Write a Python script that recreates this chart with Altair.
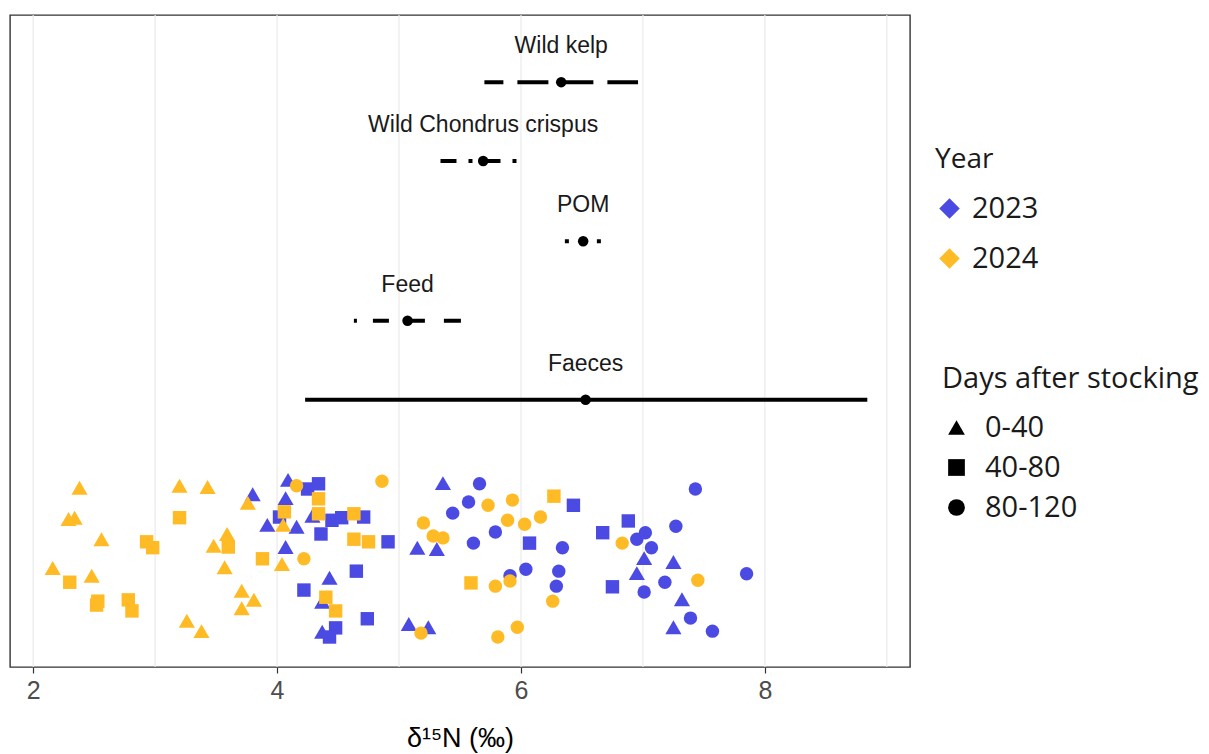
import altair as alt
import pandas as pd

# ---------------- data ----------------
sources = ["Wild kelp", "Wild Chondrus crispus", "POM", "Feed", "Faeces"]
src_mean = [6.33, 5.69, 6.51, 5.07, 6.53]
src_min = [5.70, 5.34, 6.36, 4.63, 4.23]
src_max = [6.96, 6.03, 6.67, 5.52, 8.84]
src_row = [8.97, 7.76, 6.53, 5.31, 4.10]

years = ["2023", "2024"]
days = ["0-40", "40-80", "80-120"]

# 2023
y2023_d0_40_x = [3.80, 3.92, 4.16, 4.07, 4.09, 4.07, 4.29, 4.43, 4.37, 4.37, 5.36, 5.15, 5.31, 5.08, 5.24, 7.01, 7.25, 6.95, 7.32, 7.25]
y2023_d0_40_y = [2.65, 2.18, 2.15, 2.59, 2.87, 1.84, 2.32, 1.37, 1.00, 0.54, 2.82, 1.83, 1.81, 0.66, 0.61, 1.67, 1.61, 1.44, 1.04, 0.61]
y2023_d40_80_x = [4.02, 4.25, 4.34, 4.45, 4.53, 4.71, 4.36, 4.91, 4.65, 4.22, 4.74, 4.48, 4.43, 6.07, 6.43, 6.88, 6.67, 6.75]
y2023_d40_80_y = [2.30, 2.73, 2.81, 2.25, 2.29, 2.30, 2.04, 1.92, 1.47, 1.18, 0.74, 0.60, 0.46, 1.90, 2.48, 2.24, 2.06, 1.23]
y2023_d80_120_x = [5.66, 5.57, 5.44, 5.61, 5.79, 6.34, 5.91, 6.04, 6.31, 6.29, 7.43, 6.95, 7.02, 7.07, 7.27, 7.85, 7.01, 7.18, 7.39, 7.57]
y2023_d80_120_y = [2.81, 2.53, 2.36, 1.90, 2.07, 1.83, 1.40, 1.50, 1.47, 1.24, 2.73, 1.96, 2.06, 1.83, 2.16, 1.43, 1.15, 1.30, 0.75, 0.55]

# 2024
y2024_d0_40_x = [2.38, 2.29, 2.34, 2.56, 2.16, 2.48, 3.20, 3.43, 3.26, 3.38, 3.48, 3.59, 3.57, 3.71, 3.81, 3.71, 3.76, 4.04, 4.05]
y2024_d0_40_y = [2.75, 2.27, 2.29, 1.96, 1.52, 1.40, 2.78, 2.76, 0.71, 0.55, 1.86, 2.04, 1.53, 1.17, 1.03, 0.90, 2.52, 1.58, 2.18]
y2024_d40_80_x = [2.30, 2.53, 2.52, 2.78, 2.81, 2.93, 2.98, 3.20, 3.60, 3.88, 4.06, 4.34, 4.34, 4.63, 4.63, 4.75, 4.40, 4.48, 5.59, 6.27]
y2024_d40_80_y = [1.30, 1.01, 0.95, 1.03, 0.86, 1.92, 1.83, 2.29, 1.84, 1.66, 2.38, 2.58, 2.35, 2.35, 1.96, 1.92, 1.07, 0.86, 1.29, 2.62]
y2024_d80_120_x = [4.16, 4.22, 4.86, 5.20, 5.28, 5.36, 5.73, 5.93, 5.89, 6.03, 6.16, 5.79, 5.91, 6.26, 5.18, 5.81, 5.97, 6.83, 7.45]
y2024_d80_120_y = [2.78, 1.66, 2.85, 2.21, 2.01, 1.98, 2.48, 2.56, 2.25, 2.19, 2.30, 1.24, 1.32, 1.01, 0.52, 0.46, 0.61, 1.90, 1.33]

grid_x = [2, 3, 4, 5, 6, 7, 8, 9]
tick_values = [2, 4, 6, 8]

# ---------------- tables ----------------
groups = [
    ("2023", "0-40", y2023_d0_40_x, y2023_d0_40_y),
    ("2023", "40-80", y2023_d40_80_x, y2023_d40_80_y),
    ("2023", "80-120", y2023_d80_120_x, y2023_d80_120_y),
    ("2024", "0-40", y2024_d0_40_x, y2024_d0_40_y),
    ("2024", "40-80", y2024_d40_80_x, y2024_d40_80_y),
    ("2024", "80-120", y2024_d80_120_x, y2024_d80_120_y),
]
rows = []
for yr, d, xs, ys in groups:
    for xv, yv in zip(xs, ys):
        rows.append({"year": yr, "days": d, "d15N": xv, "jit": yv})
pts = pd.DataFrame(rows)

src = pd.DataFrame({
    "source": sources, "mean": src_mean, "lo": src_min, "hi": src_max, "row": src_row,
})
grid = pd.DataFrame({"g": grid_x})

AXFONT = "Liberation Sans"
LEGFONT = "Open Sans"

xscale = alt.Scale(domain=[1.81, 9.19], nice=False, zero=False)
yscale = alt.Scale(domain=[0, 10], nice=False, zero=False)

gridlayer = alt.Chart(grid).mark_rule(color="#EBEBEB", strokeWidth=1.2).encode(
    x=alt.X("g:Q", scale=xscale,
            axis=alt.Axis(values=tick_values, format="d", grid=False, domain=False,
                          tickColor="#333333", tickSize=6, tickWidth=1.2,
                          labelFont=AXFONT, labelFontSize=25,
                          labelColor="#4D4D4D", labelPadding=5,
                          title="δ¹⁵N (‰)", titleFont=AXFONT,
                          titleFontSize=27, titleFontWeight="normal",
                          titleColor="#000000", titlePadding=22)),
)

dash_patterns = [
    [19, 14, 31, 14, 31, 14, 31],
    [16, 12, 4, 12],
    [4, 12],
    [3, 16, 16, 19, 17, 19, 17],
    [1, 0],
]

bars = alt.Chart(src).mark_rule(color="black", strokeWidth=4, strokeCap="butt").encode(
    x=alt.X("lo:Q", scale=xscale),
    x2="hi:Q",
    y=alt.Y("row:Q", scale=yscale, axis=None),
    strokeDash=alt.StrokeDash("source:N", legend=None,
                              scale=alt.Scale(domain=sources, range=dash_patterns)),
)

means = alt.Chart(src).mark_point(filled=True, color="black", size=110, opacity=1, shape="circle").encode(
    x=alt.X("mean:Q", scale=xscale),
    y=alt.Y("row:Q", scale=yscale, axis=None),
)

labels = alt.Chart(src).mark_text(font=AXFONT, fontSize=23, color="#1A1A1A",
                                  dy=-36, baseline="middle", align="center").encode(
    x=alt.X("mean:Q", scale=xscale),
    y=alt.Y("row:Q", scale=yscale, axis=None),
    text="source:N",
)

scatter = alt.Chart(pts).mark_point(filled=True, opacity=1).encode(
    x=alt.X("d15N:Q", scale=xscale),
    y=alt.Y("jit:Q", scale=yscale, axis=None),
    color=alt.Color("year:N", scale=alt.Scale(domain=years, range=["#4B4BE3", "#FFBB25"]),
                    legend=alt.Legend(title="Year", orient="none", legendX=925, legendY=131,
                                      symbolType="diamond", symbolSize=420, symbolStrokeWidth=0,
                                      titleFont=LEGFONT, titleFontSize=28, titleFontWeight="normal",
                                      titleColor="#1A1A1A", titlePadding=20, titleLimit=400,
                                      labelFont=LEGFONT, labelFontSize=29, labelColor="#1A1A1A",
                                      labelOffset=8, rowPadding=20, padding=0, symbolOpacity=1)),
    shape=alt.Shape("days:N", scale=alt.Scale(domain=days, range=["triangle-up", "square", "circle"]),
                    legend=alt.Legend(title="Days after stocking", orient="none", legendX=932, legendY=350,
                                      symbolSize=280, symbolFillColor="black", symbolStrokeColor="black",
                                      symbolStrokeWidth=0,
                                      titleFont=LEGFONT, titleFontSize=29, titleFontWeight="normal",
                                      titleColor="#1A1A1A", titlePadding=19, titleLimit=400,
                                      labelFont=LEGFONT, labelFontSize=29, labelColor="#1A1A1A",
                                      labelOffset=14, rowPadding=10, padding=0, symbolOpacity=1)),
    size=alt.condition("datum.days == '0-40'", alt.value(260), alt.value(180)),
    order=alt.Order("year:N"),
)

chart = alt.layer(gridlayer, bars, means, labels, scatter).properties(
    width=900, height=652,
    background="white",
    autosize=alt.AutoSizeParams(type="none"),
    padding={"left": 10, "top": 15, "right": 299, "bottom": 87},
).configure_view(stroke="#333333", strokeWidth=1.4)

chart.save("out.html", embed_options={"renderer": "svg", "actions": False})
